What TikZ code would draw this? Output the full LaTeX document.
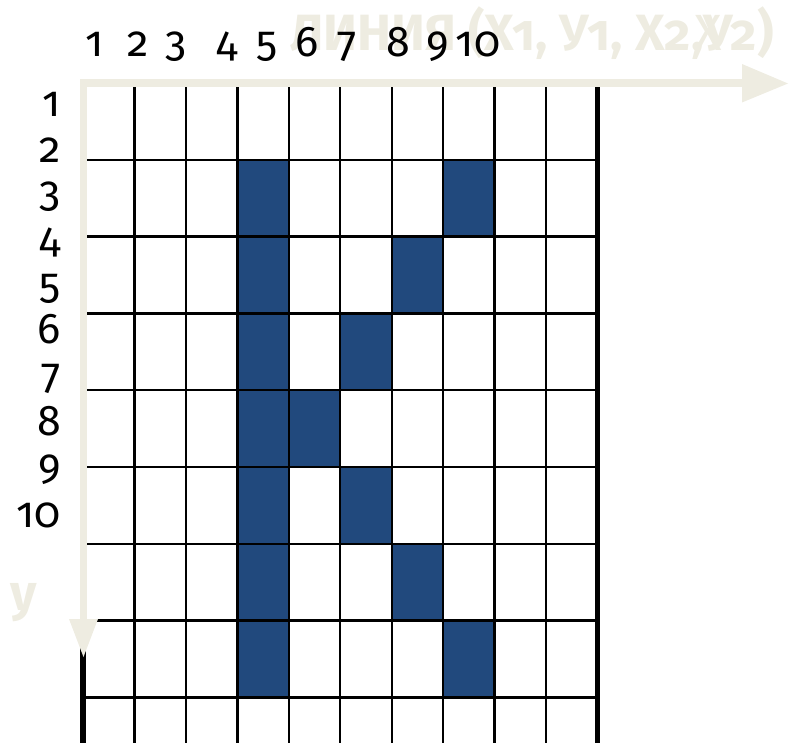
\documentclass[tikz,border=0pt]{standalone}
\usepackage{fontspec}
\setmainfont{Fira Sans}[Numbers=OldStyle]
\definecolor{cellblue}{RGB}{33,73,125}
\definecolor{axbeige}{RGB}{238,236,225}
\begin{document}
\begin{tikzpicture}[x=1pt,y=-1pt,
  gridline/.style={black,line width=2.4pt},
  borderline/.style={black,line width=5.5pt},
  axisline/.style={axbeige},
  num/.style={font=\fontsize{43}{43}\selectfont, inner sep=0pt, anchor=base},
  lnum/.style={num, anchor=base east},
  faded/.style={axbeige, inner sep=0pt, font=\fontsize{51}{51}\selectfont\bfseries},
]
\useasboundingbox (0,0) rectangle (789,743);
\pgfmathsetmacro{\gx}{51.45}
\pgfmathsetmacro{\gy}{76.8}
% faded title (behind numbers)
\node[faded, anchor=base west] (title) at (290,51) {ЛИНИЯ (X1, У1, X2,\makebox[0pt][l]{\hspace{-9pt}\mdseries Х}У2)};
% filled cells
\foreach \c/\r in {4/2,4/3,4/4,4/5,4/6,4/7,4/8,8/2,7/3,6/4,5/5,6/6,7/7,8/8}
  \fill[cellblue] ({83+(\c-1)*\gx},{83+(\r-1)*\gy}) rectangle ++(\gx,\gy);
% grid
\foreach \i in {1,...,9}
  \draw[gridline] ({83+\i*\gx},83) -- ({83+\i*\gx},743);
\foreach \j in {0,...,8}
  \draw[gridline] (83,{83+\j*\gy}) -- (597.5,{83+\j*\gy});
\draw[borderline] (83,83) -- (83,743);
\draw[borderline] (597.5,83) -- (597.5,743);
% axes
\coordinate (o) at (80,83.5);
\coordinate (xend) at (788,83.5);
\coordinate (yend) at (83.5,657);
\fill[axisline] (80,79.5) rectangle (745,87.5);
\fill[axisline] (742,64) -- (xend) -- (742,102.5) -- cycle;
\fill[axisline] (80.3,80) rectangle (86.7,622);
\fill[axisline] (69,619) -- (98,619) -- (yend) -- cycle;
% top numbers
\foreach \n/\x in {1/95,2/138,3/176,4/227,5/267,6/307,7/347,8/398,9/438,10/478}
  \node[num] (t\n) at (\x,57) {\n};
% left numbers
\foreach \n/\y in {1/117,2/163,3/207,4/252,5/298,6/343,7/388,8/435,9/479,10/527}
  \node[lnum] (l\n) at (61,\y) {\n};
% y label
\node[faded, anchor=base] (ylab) at (24,610) {у};
\end{tikzpicture}
\end{document}
